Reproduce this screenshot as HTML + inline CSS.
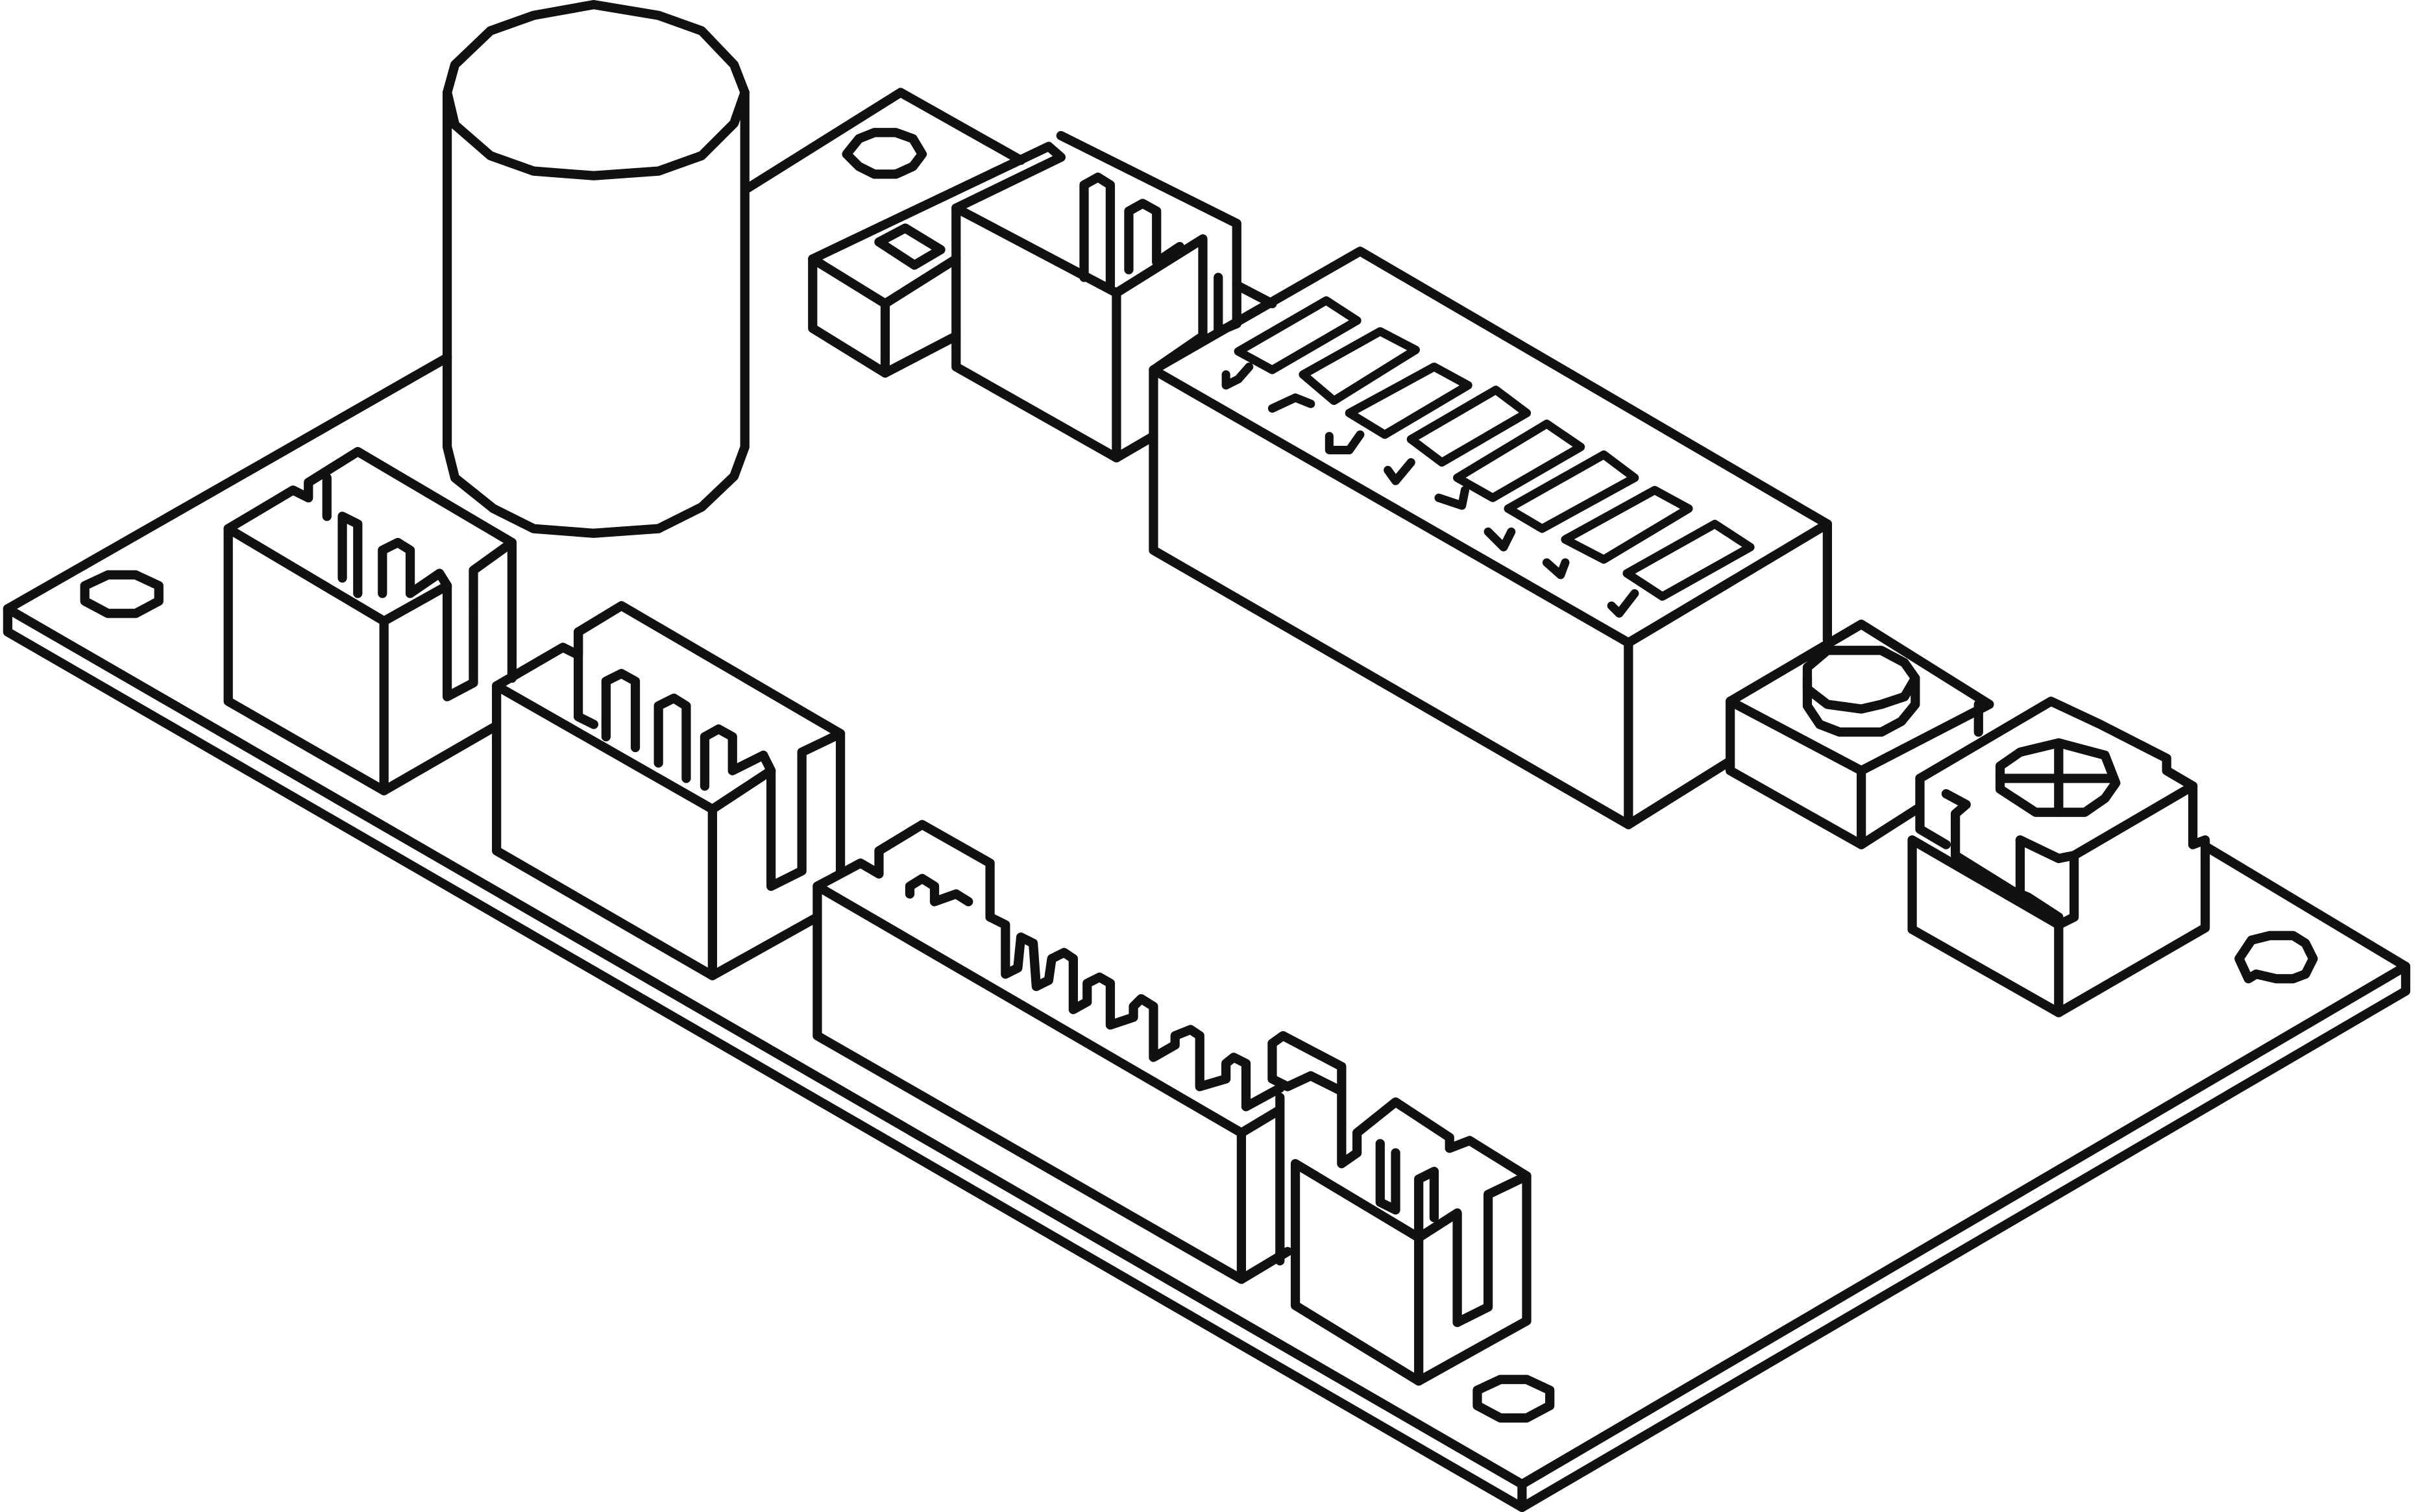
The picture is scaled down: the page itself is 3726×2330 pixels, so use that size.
<!DOCTYPE html>
<html><head><meta charset="utf-8"><style>
html,body{margin:0;padding:0;background:#fff;}
svg{display:block;width:3726px;height:2330px;}
</style></head><body>
<svg viewBox="0 0 1568 981" preserveAspectRatio="none" xmlns="http://www.w3.org/2000/svg">
<g fill="none" stroke="#111" stroke-width="6" stroke-linejoin="round" stroke-linecap="round">
<!-- board -->
<polyline points="290,232 5,395 987,963 1560,627 1430,549"/>
<polyline points="5,395 5,410 987,978 1560,643 1560,627"/>
<line x1="987" y1="963" x2="987" y2="978"/>
<polyline points="485,122 584,60 662,104"/>
<line x1="802" y1="185" x2="825" y2="197"/>
<!-- holes -->
<polygon points="55,380 70,373 88,373 103,380 103,390 88,398 70,398 55,390"/>
<polygon points="958,902 973,895 990,895 1005,902 1005,912 990,920 973,920 958,912"/>
<polygon points="1452,622 1460,610 1472,607 1487,607 1495,612 1500,622 1495,632 1487,635 1476,635 1463,632 1458,635"/>
<polygon points="549,100 557,90 567,86 581,86 592,90 598,100 592,108 581,113 567,113 557,108 549,100"/>
<!-- capacitor -->
<polygon points="290,60 295,42 318,20 346,10 385,3 427,10 455,20 476,42 483,60 476,80 455,101 427,111 385,114 346,111 318,101 295,81" fill="#fff"/>
<polyline points="290,60 290,290 295,310 320,330 346,343 385,346 427,343 455,329 476,309 483,290 483,60"/>
<!-- left header -->
<polygon points="148,343 148,455 249,513 249,403"/>
<polyline points="249,513 320,472"/>
<polyline points="249,403 290,380 290,452 307,443 307,370 332,352"/>
<polyline points="148,343 190,318 200,323 200,313 232,293 332,352 332,440"/>
<polyline points="212,335 212,310"/>
<polyline points="222,375 222,335 232,340 232,385"/>
<polyline points="248,385 248,357 258,352 266,357 266,385"/>
<polyline points="266,385 285,372 290,380"/>
<!-- middle header -->
<polygon points="322,445 322,552 462,633 462,525"/>
<polyline points="462,633 530,595"/>
<polyline points="462,525 500,500 500,575 520,565 520,488 545,476 545,565"/>
<polyline points="322,445 365,420 375,425 375,410 403,393 545,476"/>
<polyline points="375,410 375,465 385,470"/>
<polyline points="393,478 393,442 403,437 412,442 412,485"/>
<polyline points="427,495 427,458 437,453 445,458 445,505"/>
<polyline points="457,510 457,478 466,473 475,478 475,500 495,490 500,500"/>
<!-- long header -->
<polygon points="530,575 530,672 805,830 805,735"/>
<polyline points="805,830 835,812"/>
<polyline points="530,575 558,560 570,567 570,552 598,535 642,560 642,595 652,600 652,632 660,628 662,608 670,612 672,640 680,636 682,622 690,618 696,622 696,655 705,650 705,638 713,634 720,638 720,665 735,660 735,653 740,648 748,653 748,686 762,678 762,672 772,668 778,672 778,705 795,700 795,690 800,686 808,690 808,718 830,706"/>
<polyline points="590,580 590,575 598,570 606,575 606,585 620,580 628,585"/>
<polyline points="805,735 830,720 830,818 830,712"/>
<!-- small front header -->
<polygon points="840,755 840,847 920,896 920,803"/>
<polyline points="920,896 990,857 990,763 953,740 940,745 940,738 905,715 880,735 880,748 870,755 870,692 832,672 825,677 825,700 835,705 850,698 870,708"/>
<polyline points="920,803 945,787 945,858 965,848 965,775 990,763"/>
<polyline points="895,742 895,780 905,785 905,748"/>
<polyline points="920,803 920,765 930,760 930,790"/>
<!-- back header near cap -->
<polygon points="527,168 527,213 574,242 574,197"/>
<polyline points="574,242 620,218"/>
<polyline points="527,168 680,95 688,102 620,135"/>
<polyline points="574,197 620,168"/>
<polyline points="570,157 593,172 610,162 587,148 570,157"/>
<!-- relay box -->
<polygon points="620,135 620,238 724,297 724,190"/>
<polyline points="724,297 748,283"/>
<polyline points="724,190 780,155 780,218 748,240"/>
<polyline points="703,180 703,120 712,115 720,120 720,185"/>
<polyline points="732,175 732,137 741,132 750,137 750,170 765,160"/>
<polyline points="688,88 802,145 802,210 790,215 790,180"/>
<!-- big block -->
<polygon points="748,240 882,163 1185,340 1056,417"/>
<polyline points="748,240 748,357 1056,535 1056,417"/>
<polyline points="1056,535 1120,495"/>
<line x1="1185" y1="340" x2="1185" y2="415"/>
<!-- resistors -->
<g stroke-width="5.5">
<polygon points="803,228 860,195 880,208 825,240"/>
<polygon points="845,243 895,215 918,227 865,260"/>
<polygon points="875,268 930,238 952,250 898,282"/>
<polygon points="915,285 970,253 990,268 935,300"/>
<polygon points="945,310 1003,275 1025,290 968,323"/>
<polygon points="978,330 1040,295 1060,310 1000,343"/>
<polygon points="1015,350 1073,318 1095,330 1040,363"/>
<polygon points="1055,372 1112,340 1135,355 1078,387"/>
<polyline points="795,243 795,250 803,246 810,238"/>
<polyline points="825,265 840,258 850,262"/>
<polyline points="862,283 862,292 875,292 882,282"/>
<polyline points="900,305 905,312 915,300"/>
<polyline points="933,323 948,328 950,318"/>
<polyline points="965,345 975,355 980,345"/>
<polyline points="1003,365 1012,373 1015,365"/>
<polyline points="1045,393 1050,398 1060,385"/>
</g>
<!-- button -->
<polygon points="1122,455 1207,405 1290,457 1207,500"/>
<polyline points="1122,455 1122,500 1207,548 1207,500"/>
<polyline points="1207,548 1243,525"/>
<polyline points="1283,457 1283,475"/>
<polygon points="1172,433 1185,422 1220,422 1235,430 1242,440 1235,452 1220,457 1207,460 1185,457 1172,447" fill="#fff"/>
<polyline points="1172,440 1172,458 1180,470 1193,475 1220,475 1233,468 1242,457 1242,440"/>
<!-- right pot -->
<polyline points="1245,505 1330,455 1362,470 1405,492 1405,500 1422,510 1422,548 1430,545 1430,602 1335,657 1240,603 1240,545"/>
<polyline points="1240,545 1335,600 1335,657"/>
<polyline points="1335,600 1345,595 1345,555 1422,510"/>
<polyline points="1245,505 1245,538 1262,548"/>
<polyline points="1262,515 1275,522 1268,528 1268,555 1305,578 1315,582 1335,595"/>
<polyline points="1310,545 1335,557 1345,555"/>
<polyline points="1310,545 1310,578"/>
<polygon points="1297,497 1310,488 1335,482 1365,490 1372,508 1365,518 1352,527 1320,527 1297,512" fill="#fff"/>
<line x1="1297" y1="505" x2="1370" y2="505"/>
<line x1="1335" y1="484" x2="1335" y2="527"/>
</g>
</svg>
</body></html>
